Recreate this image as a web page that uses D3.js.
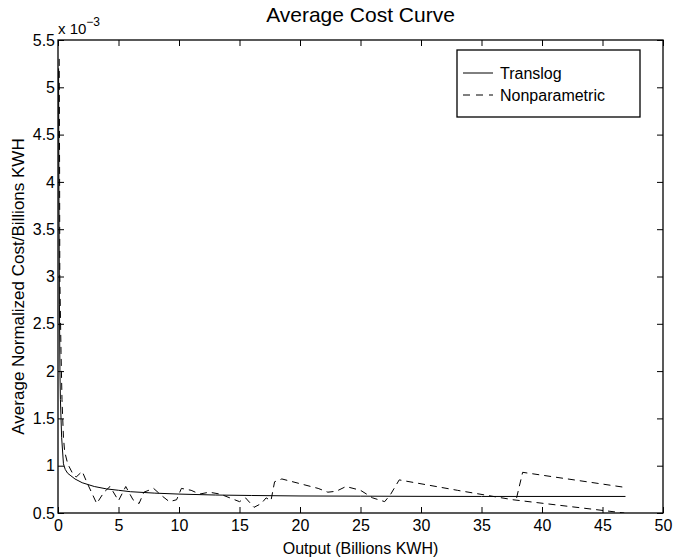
<!DOCTYPE html>
<html>
<head>
<meta charset="utf-8">
<script src="https://cdn.jsdelivr.net/npm/d3@7"></script>
<style>
  body { margin: 0; background: #fff; }
  svg text { font-family: "Liberation Sans", Arial, sans-serif; fill: #000; }
</style>
</head>
<body>
<div id="chart"></div>
<script>
// values (y in units of 1e-3)
const translogX = [0.05, 0.08, 0.12, 0.16, 0.2, 0.3, 0.45, 0.6, 0.8, 1.0, 1.4, 2.0, 3.0, 4.0, 5.0, 6.0, 8.0, 10, 13, 16, 20, 25, 30, 35, 40, 46.9];
const translogY = [5.2, 3.8, 2.7, 2.0, 1.7, 1.3, 1.02, 0.96, 0.92, 0.9, 0.86, 0.82, 0.78, 0.755, 0.74, 0.725, 0.71, 0.70, 0.69, 0.685, 0.68, 0.678, 0.676, 0.675, 0.675, 0.675];

// null marks a break in the plotted path
const nonparX = [0.1, 0.13, 0.15, 0.25, 0.33, 0.45, 0.55, 0.8, 1.2, 1.5, 2.0, 2.4, 3.2, 3.8, 4.3, 5.0, 5.6, 6.2, 6.7, 7.1, 7.9, 8.6, 9.2, 9.8, 10.2, 11.0, 11.7, 12.5, 13.4, 14.2, 15.0, 15.5, 16.2, 16.8, 17.2, 17.6, 17.9, 18.5, 20.0, 21.5, 22.3, 23.0, 23.8, 25.0, 26.0, 27.0, 27.5, 28.2, 33.0, 37.6, 46.8, null, 37.9, 38.4, 46.9];
const nonparY = [5.3, 4.2, 3.0, 2.2, 1.7, 1.3, 1.15, 1.02, 0.92, 0.88, 0.94, 0.82, 0.60, 0.72, 0.78, 0.63, 0.78, 0.64, 0.60, 0.72, 0.76, 0.68, 0.62, 0.64, 0.76, 0.74, 0.70, 0.72, 0.70, 0.66, 0.62, 0.66, 0.56, 0.60, 0.66, 0.63, 0.83, 0.86, 0.81, 0.76, 0.72, 0.73, 0.78, 0.74, 0.66, 0.62, 0.70, 0.85, 0.74, 0.64, 0.50, null, 0.66, 0.93, 0.77];

const xTicks = [0, 5, 10, 15, 20, 25, 30, 35, 40, 45, 50];
const yTicks = [0.5, 1, 1.5, 2, 2.5, 3, 3.5, 4, 4.5, 5, 5.5];
const seriesNames = ['Translog', 'Nonparametric'];

const W = 677, H = 560;
const m = { top: 40, right: 14, bottom: 47, left: 58 };
const iw = W - m.left - m.right, ih = H - m.top - m.bottom;

const svg = d3.select('#chart').append('svg').attr('width', W).attr('height', H);
const g = svg.append('g').attr('transform', `translate(${m.left},${m.top})`);

const x = d3.scaleLinear().domain([0, 50]).range([0, iw]);
const y = d3.scaleLinear().domain([0.5, 5.5]).range([ih, 0]);

// clip the curves to the axes box
svg.append('clipPath').attr('id', 'clip').append('rect').attr('width', iw).attr('height', ih);

const tickLen = 6;
const fmt = d => String(d);

// bottom / left axes with labels, ticks pointing inward
const xAxisG = g.append('g').attr('transform', `translate(0,${ih})`)
  .call(d3.axisBottom(x).tickValues(xTicks).tickFormat(fmt).tickSizeInner(-tickLen).tickSizeOuter(0).tickPadding(7));
const yAxisG = g.append('g')
  .call(d3.axisLeft(y).tickValues(yTicks).tickFormat(fmt).tickSizeInner(-tickLen).tickSizeOuter(0).tickPadding(3));
// top / right: ticks only
const xTopG = g.append('g')
  .call(d3.axisTop(x).tickValues(xTicks).tickFormat('').tickSizeInner(-tickLen).tickSizeOuter(0));
const yRightG = g.append('g').attr('transform', `translate(${iw},0)`)
  .call(d3.axisRight(y).tickValues(yTicks).tickFormat('').tickSizeInner(-tickLen).tickSizeOuter(0));

[xAxisG, yAxisG, xTopG, yRightG].forEach(a => {
  a.select('.domain').remove();
  a.selectAll('line').attr('stroke', '#000').attr('stroke-width', 1);
  a.selectAll('text').style('font-size', '16px').style('font-family', '"Liberation Sans", Arial, sans-serif');
});
xAxisG.selectAll('text').attr('dy', '0.71em');

g.append('rect').attr('width', iw).attr('height', ih)
  .attr('fill', 'none').attr('stroke', '#000').attr('stroke-width', 1.3);

const plot = g.append('g').attr('clip-path', 'url(#clip)');

const line = d3.line()
  .defined(d => d[0] != null && d[1] != null)
  .x(d => x(d[0])).y(d => y(d[1]));

const translog = translogX.map((v, i) => [v, translogY[i]]);
const nonpar = nonparX.map((v, i) => [v, nonparY[i]]);

plot.append('path').datum(translog)
  .attr('d', line).attr('fill', 'none').attr('stroke', '#000').attr('stroke-width', 1);
plot.append('path').datum(nonpar)
  .attr('d', line).attr('fill', 'none').attr('stroke', '#000').attr('stroke-width', 1)
  .attr('stroke-dasharray', '7,5');

// exponent label
const ex = svg.append('text').attr('x', m.left).attr('y', m.top - 6).style('font-size', '15px');
ex.append('tspan').text('x 10');
ex.append('tspan').attr('dy', -8).style('font-size', '12px').text('\u22123');

// title and axis labels
svg.append('text').attr('x', m.left + iw / 2).attr('y', 22)
  .attr('text-anchor', 'middle').style('font-size', '21px').text('Average Cost Curve');
svg.append('text').attr('x', m.left + iw / 2).attr('y', H - 6)
  .attr('text-anchor', 'middle').style('font-size', '16px').text('Output (Billions KWH)');
svg.append('text').attr('transform', `translate(24,${m.top + ih / 2 + 10}) rotate(-90)`)
  .attr('text-anchor', 'middle').style('font-size', '17px').text('Average Normalized Cost/Billions KWH');

// legend
const lg = svg.append('g').attr('transform', 'translate(457,50)');
lg.append('rect').attr('width', 183).attr('height', 67)
  .attr('fill', '#fff').attr('stroke', '#000').attr('stroke-width', 1.3);
seriesNames.forEach((s, i) => {
  const ly = 23 + i * 22;
  lg.append('line').attr('x1', 6).attr('x2', 36).attr('y1', ly).attr('y2', ly)
    .attr('stroke', '#000').attr('stroke-width', 1)
    .attr('stroke-dasharray', i === 1 ? '7,6' : null);
  lg.append('text').attr('x', 43).attr('y', ly + 6).style('font-size', '16px').text(s);
});
</script>
</body>
</html>
